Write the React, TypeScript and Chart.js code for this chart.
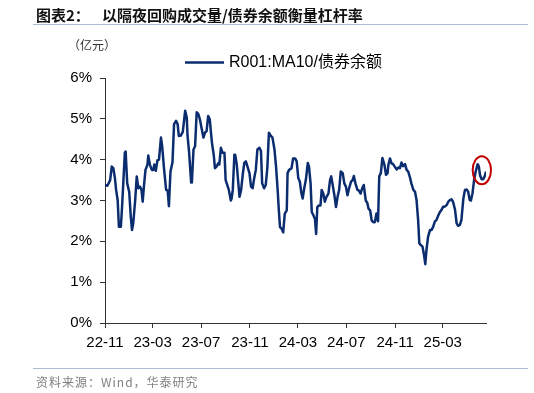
import React, { useEffect, useRef } from "react";
import { Chart, registerables } from "chart.js";

Chart.register(...registerables);

// ---- texts ----
const TITLE_PREFIX = "图表2：";
const TITLE_TEXT = "以隔夜回购成交量/债券余额衡量杠杆率";
const UNIT_LABEL = "（亿元）";
const SERIES_NAME = "R001:MA10/债券余额";
const SOURCE_TEXT = "资料来源：Wind，华泰研究";

// ---- data: x = days since 2022-11-01, y = ratio in % ----
const START_DATE = "2022-11-01";
const dayOffsets = [
  0, 6, 13, 17, 21, 25, 28, 32, 35, 40, 43, 46, 50, 52, 56, 61, 65, 68, 71, 76,
  80, 84, 88, 92, 95, 98, 102, 107, 109, 113, 118, 122, 124, 128, 132, 136, 141, 144, 149, 154,
  158, 161, 165, 170, 174, 179, 183, 186, 191, 196, 202, 206, 208, 212, 217, 219, 223, 227, 231, 235,
  239, 244, 248, 252, 256, 260, 264, 267, 270, 274, 277, 281, 286, 288, 292, 296, 301, 304, 308, 312,
  317, 319, 322, 326, 328, 332, 336, 339, 343, 347, 351, 355, 359, 364, 368, 372, 376, 380, 384, 389,
  393, 396, 401, 405, 409, 413, 418, 422, 427, 431, 435, 438, 441, 445, 449, 453, 458, 460, 464, 470,
  474, 479, 483, 487, 491, 495, 498, 502, 506, 511, 514, 518, 521, 525, 529, 532, 535, 539, 543, 546,
  550, 554, 558, 563, 567, 570, 573, 578, 582, 586, 590, 594, 599, 603, 607, 611, 615, 620, 624, 627,
  631, 636, 640, 644, 648, 652, 657, 661, 664, 668, 672, 676, 680, 684, 688, 691, 695, 699, 704, 708,
  712, 714, 718, 722, 726, 730, 735, 739, 743, 747, 751, 756, 760, 764, 768, 772, 777, 781, 785, 789,
  792, 796, 800, 804, 807, 810, 814, 819, 823, 827, 831, 835, 840, 844, 848, 852, 856, 861, 865, 869,
  873, 877, 882, 886, 890, 894, 898, 903, 907, 911, 915, 919, 922, 926, 930, 934, 939, 942, 945, 949,
  953, 957, 960,
];
const values = [
  3.38, 3.36, 3.5, 3.83, 3.79, 3.55, 3.26, 3.0, 2.36, 2.36, 2.84, 3.42, 4.17, 4.2, 3.42, 3.21, 2.6, 2.28, 2.43, 3.0,
  3.59, 3.3, 3.34, 3.26, 2.97, 3.34, 3.75, 3.88, 4.1, 3.88, 3.75, 3.75, 3.88, 3.73, 3.98, 4.0, 4.54, 4.33, 3.75, 3.26,
  3.24, 2.86, 3.71, 3.93, 4.87, 4.95, 4.87, 4.58, 4.59, 4.68, 5.2, 5.03, 4.58, 4.17, 3.44, 3.46, 4.25, 4.33, 5.16, 5.12,
  4.99, 4.74, 4.54, 4.66, 4.7, 5.07, 4.99, 4.66, 4.37, 4.12, 3.79, 3.83, 3.92, 3.88, 4.29, 4.17, 4.17, 3.5, 3.38, 3.26,
  3.0, 3.05, 3.26, 4.12, 4.12, 3.88, 3.42, 3.09, 3.26, 3.63, 3.92, 3.96, 3.83, 3.67, 3.34, 3.3, 3.55, 3.75, 4.25, 4.29,
  4.21, 3.42, 3.3, 3.38, 3.79, 4.66, 4.58, 4.54, 4.25, 3.83, 3.26, 2.76, 2.35, 2.31, 2.22, 2.68, 2.76, 3.67, 3.75, 3.79,
  4.03, 4.03, 3.96, 3.55, 3.46, 3.17, 3.05, 3.3, 3.5, 3.92, 3.83, 3.42, 2.72, 2.64, 2.55, 2.18, 2.84, 2.88, 2.88, 3.26,
  3.17, 2.97, 3.09, 3.17, 3.5, 3.59, 3.42, 3.13, 2.84, 3.09, 3.26, 3.71, 3.67, 3.42, 3.34, 3.13, 3.3, 3.46, 3.5, 3.6,
  3.42, 3.26, 3.24, 3.17, 3.3, 3.38, 3.0, 2.94, 2.8, 2.76, 2.51, 2.47, 2.47, 2.68, 2.49, 3.59, 3.67, 4.04, 3.88, 3.63,
  3.67, 3.87, 4.03, 3.91, 3.89, 3.83, 3.76, 3.81, 3.79, 3.93, 3.84, 3.89, 3.75, 3.71, 3.58, 3.42, 3.26, 3.22, 3.01, 2.52,
  1.95, 1.91, 1.87, 1.66, 1.44, 1.79, 2.11, 2.28, 2.28, 2.36, 2.48, 2.52, 2.64, 2.72, 2.77, 2.85, 2.85, 2.89, 2.97, 3.01,
  3.03, 2.97, 2.77, 2.44, 2.38, 2.4, 2.52, 3.05, 3.26, 3.27, 3.22, 3.01, 3.0, 3.18, 3.5, 3.71, 3.89, 3.83, 3.62, 3.52,
  3.52, 3.6, 3.71,
];

// ---- axes ----
const tickDays = [0, 120, 242, 365, 486, 608, 731, 851];
const tickLabels = ["22-11", "23-03", "23-07", "23-11", "24-03", "24-07", "24-11", "25-03"];
const X_MAX = 960;
const Y_MIN = 0;
const Y_MAX = 6;
const Y_STEP = 1;
const HIGHLIGHT_COUNT = 7; // last points circled in red

const NAVY = "#0b2d6f";
const AXIS_COLOR = "#333333";
const TICK_FONT = { family: "'Liberation Sans', Arial, sans-serif", size: 15 };

const overlayPlugin = {
  id: "overlay",
  afterDatasetsDraw(chart: any) {
    const { ctx, scales } = chart;
    const xs = scales.x;
    const ys = scales.y;
    const n = dayOffsets.length;
    const px: number[] = [];
    const py: number[] = [];
    for (let i = n - HIGHLIGHT_COUNT; i < n; i++) {
      px.push(xs.getPixelForValue(dayOffsets[i]));
      py.push(ys.getPixelForValue(values[i]));
    }
    const x0 = Math.min(...px), x1 = Math.max(...px);
    const y0 = Math.min(...py), y1 = Math.max(...py);
    ctx.save();
    ctx.beginPath();
    ctx.ellipse((x0 + x1) / 2, (y0 + y1) / 2 - 1.5, (x1 - x0) / 2 + 5, (y1 - y0) / 2 + 6.5, 0, 0, Math.PI * 2);
    ctx.strokeStyle = "#c00000";
    ctx.lineWidth = 2;
    ctx.stroke();

    // legend
    ctx.beginPath();
    ctx.moveTo(185, 62.5);
    ctx.lineTo(224, 62.5);
    ctx.strokeStyle = NAVY;
    ctx.lineWidth = 2.5;
    ctx.stroke();
    ctx.fillStyle = "#000";
    ctx.font = "16px 'Liberation Sans', Arial, 'Noto Sans CJK SC', sans-serif";
    ctx.textBaseline = "middle";
    ctx.textAlign = "left";
    ctx.fillText(SERIES_NAME, 229, 63);
    ctx.restore();
  },
};

export default function App() {
  const canvasRef = useRef<HTMLCanvasElement | null>(null);

  useEffect(() => {
    document.body.style.margin = "0";
    const canvas = canvasRef.current;
    if (!canvas) return;
    const chart = new Chart(canvas, {
      type: "line",
      data: {
        datasets: [
          {
            label: SERIES_NAME,
            data: dayOffsets.map((d, i) => ({ x: d, y: values[i] })),
            borderColor: NAVY,
            backgroundColor: NAVY,
            borderWidth: 2.5,
            borderJoinStyle: "round",
            pointRadius: 0,
            tension: 0,
            fill: false,
          },
        ],
      },
      options: {
        responsive: false,
        animation: false,
        devicePixelRatio: 1,
        layout: { padding: { top: 78, right: 48, bottom: 0, left: 0 } },
        plugins: {
          legend: { display: false },
          tooltip: { enabled: false },
          title: { display: false },
        },
        scales: {
          x: {
            type: "linear",
            min: 0,
            max: X_MAX,
            afterBuildTicks: (s: any) => {
              s.ticks = tickDays.map((v) => ({ value: v }));
            },
            afterFit: (s: any) => {
              s.height = 70;
            },
            grid: { drawOnChartArea: false, drawTicks: true, tickLength: 5, color: AXIS_COLOR, lineWidth: 1 },
            border: { display: true, color: AXIS_COLOR, width: 1 },
            ticks: {
              autoSkip: false,
              maxRotation: 0,
              padding: 6,
              color: "#000",
              font: TICK_FONT,
              callback: (v: any) => {
                const i = tickDays.indexOf(Number(v));
                return i >= 0 ? tickLabels[i] : "";
              },
            },
          },
          y: {
            min: Y_MIN,
            max: Y_MAX,
            afterFit: (s: any) => {
              s.width = 105;
            },
            grid: { drawOnChartArea: false, drawTicks: true, tickLength: 5, color: AXIS_COLOR, lineWidth: 1 },
            border: { display: true, color: AXIS_COLOR, width: 1 },
            ticks: {
              stepSize: Y_STEP,
              padding: 8,
              color: "#000",
              font: TICK_FONT,
              callback: (v: any) => `${v}%`,
            },
          },
        },
      },
      plugins: [overlayPlugin],
    } as any);
    return () => chart.destroy();
  }, []);

  const cjk = "'Noto Sans CJK SC', 'Liberation Sans', sans-serif";

  return (
    <div style={{ position: "relative", width: 534, height: 393, background: "#fff", overflow: "hidden" }}>
      <canvas ref={canvasRef} width={534} height={393} style={{ position: "absolute", left: 0, top: 0, width: 534, height: 393 }} />
      <div style={{ position: "absolute", left: 36, top: 6, fontFamily: cjk, fontWeight: 700, fontSize: 15, lineHeight: "17px", color: "#111", whiteSpace: "nowrap" }}>
        {TITLE_PREFIX}
      </div>
      <div style={{ position: "absolute", left: 102, top: 6, fontFamily: cjk, fontWeight: 700, fontSize: 15, lineHeight: "17px", color: "#111", whiteSpace: "nowrap" }}>
        {TITLE_TEXT}
      </div>
      <div style={{ position: "absolute", left: 33, top: 24, width: 495, height: 1, background: "#a9bbd0" }} />
      <div style={{ position: "absolute", left: 68, top: 37, fontFamily: cjk, fontSize: 12, lineHeight: "16px", color: "#333", whiteSpace: "nowrap" }}>
        {UNIT_LABEL}
      </div>
      <div style={{ position: "absolute", left: 33, top: 368, width: 495, height: 1, background: "#a9bbd0" }} />
      <div style={{ position: "absolute", left: 36, top: 374, fontFamily: cjk, fontSize: 12, lineHeight: "16px", letterSpacing: "1px", color: "#808080", whiteSpace: "nowrap" }}>
        {SOURCE_TEXT}
      </div>
    </div>
  );
}
